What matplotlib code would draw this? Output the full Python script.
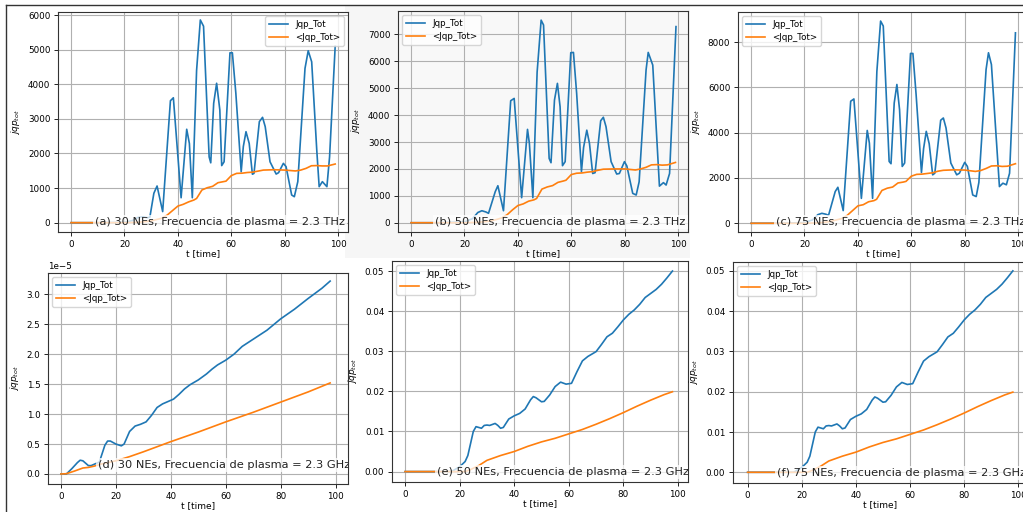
import numpy as np
import matplotlib
matplotlib.use("Agg")
import matplotlib.pyplot as plt
from matplotlib.lines import Line2D

# ---- (a) 30 NEs, 2.3 THz
ta = [0, 10, 20, 23, 25, 27, 28.5, 29.5, 31, 32.2, 34.3, 37.2, 38.3, 41.2, 43.3, 44.3, 45.4, 47, 48.4, 49.6,
      51.7, 52.3, 53.4, 54.5, 55.7, 56.4, 57.3, 59.5, 60.4, 61.7, 63.7, 64.5, 65.5, 66.7, 67.9, 68.5, 70.5,
      71.7, 72.7, 74.5, 76.8, 77.7, 79.5, 80.5, 82.6, 83.6, 84.9, 87.6, 88.8, 90.1, 92.0, 92.9, 94.1, 95.8,
      96.8, 98.9]
a_jqp = [0, 0, 10, 60, 150, 170, 140, 160, 850, 1060, 320, 3525, 3610, 720, 2700, 2290, 720, 4400, 5860, 5680,
         1900, 1730, 3450, 4030, 3260, 1650, 1760, 4910, 4910, 3740, 1470, 2200, 2630, 2290, 1400, 1425, 2920,
         3045, 2775, 1760, 1405, 1445, 1715, 1620, 800, 750, 1185, 4460, 4970, 4650, 2100, 1040, 1185, 1040,
         1900, 5100]
ta_avg = [0, 20, 25, 28, 30, 32, 34, 36, 38, 40, 42, 44, 46, 47, 49, 51, 53, 55, 57, 58, 60, 62, 64, 66, 68,
          70, 72, 76, 80, 84, 86, 88, 90, 92, 94, 96, 98.9]
a_avg = [0, 0, 10, 30, 50, 90, 130, 220, 350, 480, 530, 600, 655, 700, 945, 1010, 1050, 1155, 1185, 1200,
         1360, 1425, 1430, 1450, 1460, 1490, 1520, 1530, 1520, 1495, 1520, 1570, 1645, 1650, 1640, 1640, 1695]

# ---- (b) 50 NEs, 2.3 THz
tb = [0, 10, 20, 23, 25, 26.5, 28, 29, 31.5, 32.5, 34.6, 37.3, 38.6, 41.4, 43.6, 44.3, 45.6, 47.2, 48.7, 49.6,
      51.7, 52.4, 53.7, 54.8, 55.8, 56.7, 57.7, 59.8, 60.8, 62, 63.8, 64.6, 65.8, 66.8, 68, 68.9, 71, 72, 73,
      74.9, 77, 78, 79.9, 80.8, 83, 84.3, 85.4, 88, 88.8, 90.5, 93, 94.5, 95.5, 96.8, 99.2]
b_jqp = [0, 0, 30, 150, 380, 445, 400, 350, 1150, 1375, 445, 4535, 4620, 930, 3470, 2950, 930, 5600, 7530, 7350,
         2390, 2230, 4560, 5180, 4310, 2120, 2270, 6320, 6330, 4810, 1900, 2800, 3440, 2950, 1830, 1860, 3790,
         3920, 3570, 2270, 1810, 1830, 2270, 2110, 1090, 1030, 1520, 5680, 6330, 5860, 1360, 1490, 1400, 1830,
         7290]
tb_avg = [0, 20, 25, 28, 30, 32, 34, 36, 38, 40, 42, 44, 46, 47, 49, 51, 53, 55, 57, 58, 60, 62, 64, 66, 68,
          70, 72, 76, 80, 84, 86, 88, 90, 92, 94, 96, 99]
b_avg = [0, 0, 15, 40, 70, 120, 180, 300, 480, 640, 700, 800, 850, 900, 1250, 1330, 1380, 1500, 1550, 1580,
         1790, 1840, 1850, 1880, 1900, 1950, 1990, 2000, 2000, 1960, 2000, 2060, 2150, 2160, 2140, 2150, 2240]

# ---- (c) 75 NEs, 2.3 THz
tc = [0, 10, 20, 23, 25, 26.5, 28, 29, 31.5, 32.5, 34.5, 37.3, 38.5, 41.3, 43.5, 44.3, 45.5, 47.1, 48.5, 49.5,
      51.7, 52.4, 53.6, 54.6, 55.6, 56.6, 57.5, 59.7, 60.6, 61.8, 63.8, 64.6, 65.6, 66.7, 68, 68.8, 71, 72, 73,
      74.8, 77, 78, 80, 81, 83, 84.3, 85.3, 88, 88.9, 90, 93, 94.3, 95.6, 96.8, 99]
c_jqp = [0, 0, 30, 150, 380, 440, 400, 350, 1400, 1590, 560, 5390, 5490, 1100, 4100, 3540, 1100, 6700, 8930,
         8710, 2730, 2630, 5310, 6130, 5020, 2510, 2660, 7500, 7500, 5680, 2240, 3300, 4060, 3510, 2140, 2210,
         4550, 4650, 4210, 2660, 2140, 2210, 2690, 2510, 1250, 1180, 1800, 6790, 7530, 7010, 1620, 1770, 1700,
         2210, 8410]
tc_avg = [0, 20, 25, 28, 30, 32, 34, 36, 38, 40, 42, 44, 46, 47, 49, 51, 53, 55, 57, 58, 60, 62, 64, 66, 68,
          70, 72, 76, 80, 84, 86, 88, 90, 92, 94, 96, 99]
c_avg = [0, 0, 20, 50, 90, 150, 210, 350, 560, 770, 820, 950, 1000, 1060, 1450, 1550, 1600, 1780, 1820, 1850,
         2080, 2160, 2170, 2200, 2230, 2300, 2340, 2360, 2350, 2290, 2330, 2420, 2530, 2540, 2510, 2520, 2630]

# ---- (d) 30 NEs, 2.3 GHz  (values in units of 1e-5)
td = [0, 2, 4, 6, 7, 8, 10, 11, 12, 14, 16, 17, 18, 20, 22, 23, 25, 27, 29, 31, 33, 35, 37, 39, 41, 43, 45,
      47, 50, 53, 55, 57, 60, 63, 66, 70, 75, 80, 85, 90, 95, 98]
d_jqp = [0, 0, 0.09, 0.19, 0.23, 0.22, 0.14, 0.14, 0.16, 0.2, 0.48, 0.55, 0.55, 0.50, 0.47, 0.5, 0.71, 0.80,
         0.83, 0.87, 0.98, 1.11, 1.17, 1.21, 1.25, 1.33, 1.42, 1.49, 1.57, 1.67, 1.75, 1.82, 1.90, 2.00, 2.13,
         2.25, 2.40, 2.59, 2.75, 2.93, 3.10, 3.22]
td_avg = [0, 2, 5, 8, 10, 12, 15, 20, 25, 30, 40, 50, 60, 70, 80, 90, 98]
d_avg = [0, 0.005, 0.05, 0.10, 0.11, 0.13, 0.17, 0.22, 0.29, 0.37, 0.54, 0.70, 0.87, 1.03, 1.20, 1.37, 1.52]

# ---- (e) 50 NEs, 2.3 GHz
te = [0, 17, 18, 20, 22, 23, 24, 25, 26, 27, 28, 29, 30, 31, 33, 34, 35, 36, 38, 40, 42, 44, 46, 47, 48, 50,
      51, 53, 55, 57, 59, 61, 63, 65, 67, 70, 72, 74, 76, 78, 80, 82, 84, 86, 88, 90, 92, 94, 96, 98]
e_jqp = [0, 0, 0.0004, 0.0012, 0.0025, 0.004, 0.007, 0.010, 0.0112, 0.011, 0.0108, 0.0115, 0.0116, 0.0115,
         0.012, 0.0115, 0.0108, 0.011, 0.0131, 0.0139, 0.0145, 0.0156, 0.0179, 0.0187, 0.0184, 0.0174, 0.0175,
         0.0191, 0.0212, 0.0223, 0.0218, 0.022, 0.0249, 0.0276, 0.0287, 0.0299, 0.0317, 0.0336, 0.0345, 0.0361,
         0.0378, 0.0392, 0.0403, 0.0417, 0.0434, 0.0444, 0.0454, 0.0467, 0.0483, 0.050]
te_avg = [0, 22, 24, 27, 30, 35, 40, 45, 50, 55, 60, 65, 70, 75, 80, 85, 90, 95, 98]
e_avg = [0, 0, 0.0005, 0.0015, 0.0028, 0.004, 0.005, 0.0063, 0.0074, 0.0083, 0.0094, 0.0105, 0.0118, 0.0132,
         0.0147, 0.0163, 0.0178, 0.0192, 0.0199]

# ---- (f) 75 NEs, 2.3 GHz (reads the same as (e))
tf = [0, 17, 18, 20, 22, 23, 24, 25, 26, 27, 28, 29, 30, 31, 33, 34, 35, 36, 38, 40, 42, 44, 46, 47, 48, 50,
      51, 53, 55, 57, 59, 61, 63, 65, 67, 70, 72, 74, 76, 78, 80, 82, 84, 86, 88, 90, 92, 94, 96, 98]
f_jqp = [0, 0, 0.0004, 0.0012, 0.0025, 0.004, 0.007, 0.010, 0.0112, 0.011, 0.0108, 0.0115, 0.0116, 0.0115,
         0.012, 0.0115, 0.0108, 0.011, 0.0131, 0.0139, 0.0145, 0.0156, 0.0179, 0.0187, 0.0184, 0.0174, 0.0175,
         0.0191, 0.0212, 0.0223, 0.0218, 0.022, 0.0249, 0.0276, 0.0287, 0.0299, 0.0317, 0.0336, 0.0345, 0.0361,
         0.0378, 0.0392, 0.0403, 0.0417, 0.0434, 0.0444, 0.0454, 0.0467, 0.0483, 0.050]
tf_avg = [0, 22, 24, 27, 30, 35, 40, 45, 50, 55, 60, 65, 70, 75, 80, 85, 90, 95, 98]
f_avg = [0, 0, 0.0005, 0.0015, 0.0028, 0.004, 0.005, 0.0063, 0.0074, 0.0083, 0.0094, 0.0105, 0.0118, 0.0132,
         0.0147, 0.0163, 0.0178, 0.0192, 0.0199]

captions = ["(a) 30 NEs, Frecuencia de plasma = 2.3 THz",
            "(b) 50 NEs, Frecuencia de plasma = 2.3 THz",
            "(c) 75 NEs, Frecuencia de plasma = 2.3 THz",
            "(d) 30 NEs, Frecuencia de plasma = 2.3 GHz",
            "(e) 50 NEs, Frecuencia de plasma = 2.3 GHz",
            "(f) 75 NEs, Frecuencia de plasma = 2.3 GHz"]

W, H = 1023, 512
fig = plt.figure(figsize=(W / 100, H / 100), dpi=100)
fig.patch.set_facecolor('white')

def px_axes(left, top, right, bottom):
    return fig.add_axes((left / W, 1 - bottom / H, (right - left) / W, (bottom - top) / H))

# light grey background of the middle top screenshot
fig.add_artist(plt.Rectangle((345 / W, 1 - 258 / H), 345 / W, 253 / H, transform=fig.transFigure,
                             facecolor='#f6f6f6', edgecolor='none', zorder=-5))

panels = [
    dict(box=(58, 12, 348, 232), t=ta, y=a_jqp, ta=ta_avg, ya=a_avg, scale=1,
         xlim=(-4.9, 103.7), ylim=(-270, 6090), leg='upper right', cap=(0.128, 0.045)),
    dict(box=(398, 11, 688, 232), t=tb, y=b_jqp, ta=tb_avg, ya=b_avg, scale=1,
         xlim=(-4.9, 103.7), ylim=(-345, 7870), leg='upper left', cap=(0.128, 0.045)),
    dict(box=(738, 12, 1028, 232), t=tc, y=c_jqp, ta=tc_avg, ya=c_avg, scale=1,
         xlim=(-4.9, 103.7), ylim=(-385, 9330), leg='upper left', cap=(0.131, 0.045)),
    dict(box=(48, 273, 348, 484), t=td, y=d_jqp, ta=td_avg, ya=d_avg, scale=1e-5,
         xlim=(-4.7, 104.5), ylim=(-0.167e-5, 3.355e-5), leg='upper left', cap=(0.167, 0.09)),
    dict(box=(392, 261, 688, 482), t=te, y=e_jqp, ta=te_avg, ya=e_avg, scale=1,
         xlim=(-4.8, 103.7), ylim=(-0.0026, 0.0525), leg='upper left', cap=(0.152, 0.045)),
    dict(box=(733, 262, 1028, 483), t=tf, y=f_jqp, ta=tf_avg, ya=f_avg, scale=1,
         xlim=(-5.4, 103.6), ylim=(-0.00266, 0.0522), leg='upper left', cap=(0.149, 0.045)),
]

for i, p in enumerate(panels):
    ax = px_axes(*p['box'])
    if i == 1:
        ax.set_facecolor('#f8f8f8')
    ax.plot(p['t'], np.array(p['y']) * p['scale'], color='#1f77b4', lw=1.2, label='Jqp_Tot')
    ax.plot(p['ta'], np.array(p['ya']) * p['scale'], color='#ff7f0e', lw=1.2, label='<Jqp_Tot>')
    ax.set_xlim(*p['xlim'])
    ax.set_ylim(*p['ylim'])
    ax.set_xticks([0, 20, 40, 60, 80, 100])
    ax.grid(True, color='#b0b0b0', lw=0.8)
    ax.tick_params(labelsize=6.3, length=3, width=0.6, pad=2.5)
    ax.yaxis.get_offset_text().set_fontsize(6.3)
    for s in ax.spines.values():
        s.set_linewidth(0.8)
        s.set_color('#333333')
    ax.set_xlabel('t [time]', fontsize=6.5, labelpad=0.5)
    ax.set_ylabel('$jqp_{tot}$', fontsize=6.5, labelpad=4)
    ax.legend(loc=p['leg'], fontsize=6.3, handlelength=2.2)
    ax.text(p['cap'][0], p['cap'][1], captions[i], transform=ax.transAxes, fontsize=8.2,
            ha='left', va='center', color='#222222', clip_on=True, zorder=5,
            bbox=dict(facecolor='white', alpha=0.75, edgecolor='none', boxstyle='square,pad=0.2'))

# screenshot frame lines
fig.add_artist(Line2D([6 / W, 1], [1 - 5 / H, 1 - 5 / H], transform=fig.transFigure, color='#333333', lw=1.0))
fig.add_artist(Line2D([6 / W, 6 / W], [0, 1 - 5 / H], transform=fig.transFigure, color='#333333', lw=1.0))

fig.savefig('out.png', dpi=100)
